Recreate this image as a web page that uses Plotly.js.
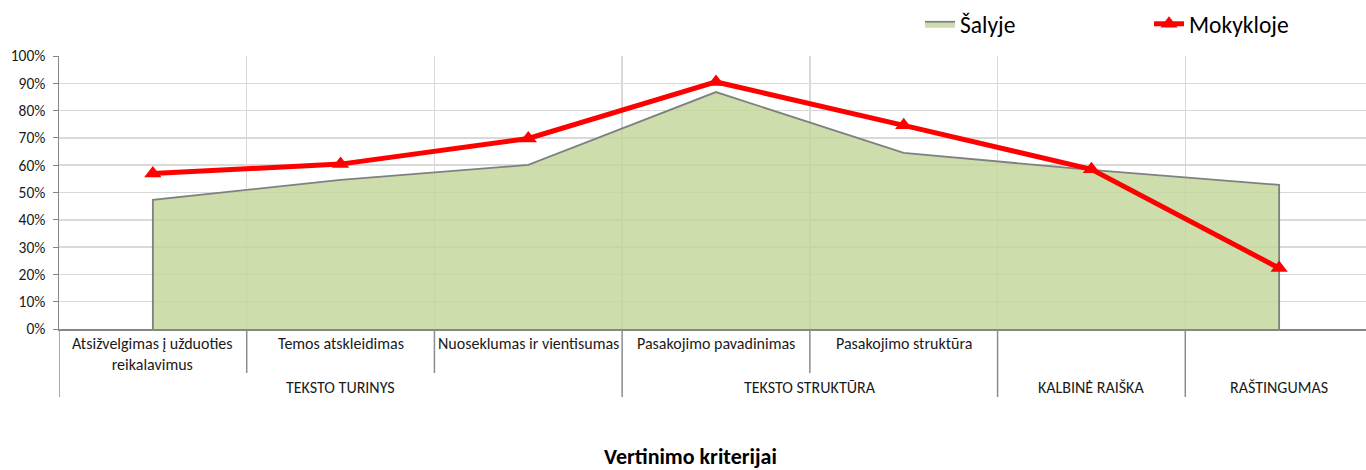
<!DOCTYPE html>
<html>
<head>
<meta charset="utf-8">
<script src="https://cdn.plot.ly/plotly-3.0.1.min.js"></script>
<style>
html,body{margin:0;padding:0;overflow:hidden;background:#fff;width:1366px;height:470px;}
#chart{width:1380px;height:470px;}
</style>
</head>
<body>
<div id="chart"></div>
<script>
// ---- data ----
const categories = [
  "Atsižvelgimas į užduoties<br>reikalavimus",
  "Temos atskleidimas",
  "Nuoseklumas ir vientisumas",
  "Pasakojimo pavadinimas",
  "Pasakojimo struktūra",
  "",
  ""
];
const groupNames = ["TEKSTO TURINYS", "TEKSTO STRUKTŪRA", "KALBINĖ RAIŠKA", "RAŠTINGUMAS"];
const groupStart = [0, 3, 5, 6];
const groupEnd   = [2, 4, 5, 6];
const salyje    = [47.3, 54.6, 60.1, 86.8, 64.5, 58.3, 52.8];
const mokykloje = [57.0, 60.4, 69.8, 90.5, 74.6, 58.5, 22.3];
const yTickLabels = ["0%","10%","20%","30%","40%","50%","60%","70%","80%","90%","100%"];
const seriesNames = ["Šalyje", "Mokykloje"];
const axisTitle = "Vertinimo kriterijai";

// ---- build ----
const idx = categories.map((_, i) => i);
const FONT = "Carlito, Calibri, 'Liberation Sans Narrow', 'Liberation Sans', sans-serif";
const plotLeftPx = 59, plotRightPx = 1373, plotW = plotRightPx - plotLeftPx;
const plotTopPx = 56, plotBotPx = 329, plotH = plotBotPx - plotTopPx;
const py = p => (plotBotPx - p) / plotH;
const px = p => (p - plotLeftPx) / plotW;

const areaTrace = {
  x: [idx[0]].concat(idx, [idx[idx.length - 1]]),
  y: [0].concat(salyje, [0]),
  type: "scatter", mode: "lines", fill: "toself",
  fillcolor: "rgba(193,213,151,0.8)",
  line: {color: "#808080", width: 1.8},
  name: seriesNames[0], hoverinfo: "skip", legend: "legend"
};
const lineTrace = {
  x: idx, y: mokykloje, type: "scatter", mode: "lines+markers",
  line: {color: "#FF0000", width: 5},
  marker: {symbol: "triangle-up", size: 15, color: "#FF0000"},
  name: seriesNames[1], hoverinfo: "skip", legend: "legend2"
};

const boundaries = idx.slice(1).map(i => i - 0.5);
const shapes = [];
idx.forEach(i => {
  if (i === 0) return;
  const b = i - 0.5;
  const isGroup = groupStart.indexOf(i) >= 0;
  shapes.push({type: "line", xref: "x", yref: "paper", x0: b, x1: b,
    y0: 0, y1: isGroup ? py(397) : py(373), line: {color: "#8c8c8c", width: 1.5}});
});
shapes.push({type: "line", xref: "x", yref: "paper", x0: -0.5, x1: -0.5,
  y0: 0, y1: py(397), line: {color: "#8c8c8c", width: 1.5}});

const annotations = [];
categories.forEach((c, i) => {
  if (!c) return;
  annotations.push({xref: "x", yref: "paper", x: i, y: py(332), yanchor: "top",
    text: c, showarrow: false, font: {family: FONT, size: 16, color: "#1a1a1a"}});
});
groupNames.forEach((g, k) => {
  annotations.push({xref: "x", yref: "paper", x: (groupStart[k] + groupEnd[k]) / 2,
    y: py(387), yanchor: "middle", text: g, showarrow: false,
    font: {family: FONT, size: 16, color: "#1a1a1a"}});
});
annotations.push({xref: "paper", yref: "paper", x: px(690), y: py(456),
  xanchor: "center", yanchor: "middle", text: "<b>" + axisTitle + "</b>", showarrow: false,
  font: {family: FONT, size: 22, color: "#000"}});

const legendCommon = {orientation: "h", xanchor: "left", y: py(24), yanchor: "middle",
  font: {family: FONT, size: 23.5, color: "#000"}, bgcolor: "rgba(0,0,0,0)"};

const layout = {
  width: 1380, height: 470,
  margin: {l: plotLeftPx, r: 1380 - plotRightPx, t: plotTopPx, b: 470 - plotBotPx, autoexpand: false},
  paper_bgcolor: "#fff", plot_bgcolor: "#fff",
  showlegend: true,
  legend: Object.assign({}, legendCommon, {x: px(920)}),
  legend2: Object.assign({}, legendCommon, {x: px(1149)}),
  xaxis: {range: [-0.5, 6.5], showticklabels: false, ticks: "", showgrid: false,
    zeroline: false, showline: true, linecolor: "#868686", linewidth: 1.5,
    minor: {tickvals: boundaries, showgrid: true, gridcolor: "#d9d9d9", gridwidth: 1.5, ticks: ""},
    fixedrange: true},
  yaxis: {range: [0, 100], tickvals: yTickLabels.map((_, i) => i * 10), ticktext: yTickLabels,
    showgrid: true, gridcolor: "#d9d9d9", gridwidth: 1.5, zeroline: false,
    showline: true, linecolor: "#868686", linewidth: 1.5, ticks: "outside", ticklen: 5,
    tickcolor: "#868686", ticklabelstandoff: 4,
    tickfont: {family: FONT, size: 15.5, color: "#1a1a1a"}, fixedrange: true},
  shapes: shapes, annotations: annotations
};
Plotly.newPlot("chart", [areaTrace, lineTrace], layout, {displayModeBar: false, staticPlot: true});
</script>
</body>
</html>
